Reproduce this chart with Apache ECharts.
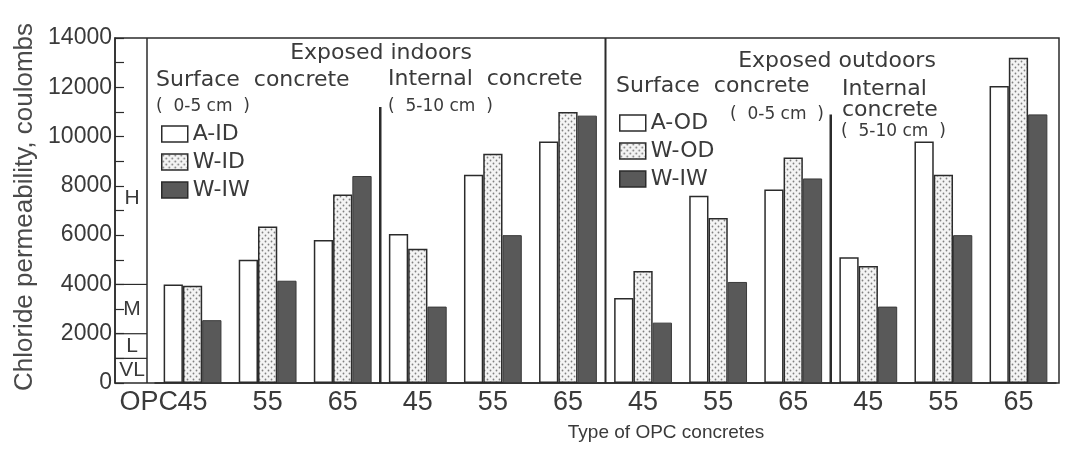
<!DOCTYPE html>
<html>
<head>
<meta charset="utf-8">
<script src="https://cdn.jsdelivr.net/npm/echarts@6/dist/echarts.min.js"></script>
<style>
  html, body { margin: 0; padding: 0; background: #fff; }
  #chart { width: 1065px; height: 450px; }
</style>
</head>
<body>
<div id="chart"></div>
<script>
// OPC concretes: w/c ratio per group, indoor groups 1-6, outdoor groups 7-12
const categories = ['45', '55', '65', '45', '55', '65', '45', '55', '65', '45', '55', '65']

// exposed indoors (surface 45/55/65, internal 45/55/65)
const aId    = [4000, 5000, 5800, 6050, 8450, 9800]
const wId    = [3950, 6350, 7650, 5450, 9300, 11000]
const wIwIn  = [2550, 4150, 8400, 3100, 6000, 10850]
// exposed outdoors
const aOd    = [3450, 7600, 7850, 5100, 9800, 12050]
const wOd    = [4550, 6700, 9150, 4750, 8450, 13200]
const wIwOut = [2450, 4100, 8300, 3100, 6000, 10900]

// rating bands on the left strip (boundaries and letter positions)
const bandLines = [1000, 2000, 4000]
const bandLetters = [
  { text: 'H', value: 7500 },
  { text: 'M', value: 3000 },
  { text: 'L', value: 1500 },
  { text: 'VL', value: 500 },
]

const INK = '#2b2b2b'
const TEXT = '#3a3a3a'
const NUM_FONT = "'Liberation Sans', sans-serif"
const PLOT_FONT = "'DejaVu Sans', sans-serif"

const indoorPad = Array(6).fill(null)
const padIn = (arr) => arr.concat(indoorPad)
const padOut = (arr) => indoorPad.concat(arr)

function dotPattern() {
  const c = document.createElement('canvas')
  c.width = 6; c.height = 6
  const ctx = c.getContext('2d')
  ctx.fillStyle = '#f4f4f4'
  ctx.fillRect(0, 0, 6, 6)
  ctx.fillStyle = '#808080'
  ctx.beginPath(); ctx.arc(1.5, 1.5, 0.9, 0, Math.PI * 2); ctx.fill()
  ctx.beginPath(); ctx.arc(4.5, 4.5, 0.9, 0, Math.PI * 2); ctx.fill()
  return { image: c, repeat: 'repeat' }
}

const styles = {
  A: { color: '#ffffff', borderColor: INK, borderWidth: 1.5 },
  W: { color: dotPattern(), borderColor: INK, borderWidth: 1.5 },
  IW: { color: '#595959', borderColor: '#3a3a3a', borderWidth: 1 },
}

function bar(name, stack, data, style) {
  return {
    name, type: 'bar', stack, data,
    barGap: '0%', barCategoryGap: '23%',
    itemStyle: style,
    emphasis: { disabled: true },
    animation: false,
  }
}

const legendBase = {
  orient: 'vertical', icon: 'rect', padding: 0,
  itemWidth: 26, itemHeight: 16, itemGap: 6,
  selectedMode: false,
  itemStyle: { borderColor: INK, borderWidth: 1.5 },
  textStyle: { fontFamily: PLOT_FONT, fontSize: 22, lineHeight: 22, color: TEXT },
  formatter: (n) => n.trim(),
}

const chart = echarts.init(document.getElementById('chart'), null, { renderer: 'canvas' })

chart.setOption({
  backgroundColor: '#fff',
  animation: false,
  grid: { left: 155, right: 9, top: 38, bottom: 67 },
  legend: [
    Object.assign({}, legendBase, { data: ['A-ID', 'W-ID', 'W-IW '], left: 161, top: 123 }),
    Object.assign({}, legendBase, { data: ['A-OD', 'W-OD', 'W-IW'], left: 619, top: 112 }),
  ],
  xAxis: {
    type: 'category', data: categories,
    axisLine: { show: true, lineStyle: { color: INK, width: 1.5 } },
    axisTick: { show: false },
    axisLabel: { interval: 0, margin: 6, fontFamily: NUM_FONT, fontSize: 27, color: TEXT },
  },
  yAxis: {
    type: 'value', min: 0, max: 14000, interval: 2000,
    position: 'left', offset: 40,
    splitLine: { show: false },
    axisLine: { show: true, lineStyle: { color: INK, width: 1.5 } },
    axisTick: { show: true, inside: true, length: 9, lineStyle: { color: INK, width: 1.2 } },
    minorTick: { show: true, splitNumber: 2, length: 9, lineStyle: { color: INK, width: 1.2 } },
    axisLabel: {
      margin: 3, fontFamily: NUM_FONT, fontSize: 23, color: TEXT,
      formatter: (v) => String(v),
    },
  },
  series: [
    bar('A-ID', 'A', padIn(aId), styles.A),
    bar('W-ID', 'W', padIn(wId), styles.W),
    bar('W-IW ', 'IW', padIn(wIwIn), styles.IW),
    bar('A-OD', 'A', padOut(aOd), styles.A),
    bar('W-OD', 'W', padOut(wOd), styles.W),
    bar('W-IW', 'IW', padOut(wIwOut), styles.IW),
  ],
})

// frame, dividers, rating strip and captions, placed through the axes
const xPx = (i) => chart.convertToPixel({ xAxisIndex: 0 }, i)
const yPx = (v) => chart.convertToPixel({ yAxisIndex: 0 }, v)
const boundary = (k) => (xPx(k - 1) + xPx(k)) / 2

const yTop = yPx(14000)
const yBase = yPx(0)
const axisX = 115
const stripX = 147
const frameRight = 1059

const line = (x1, y1, x2, y2, w) => ({
  type: 'line', silent: true,
  shape: { x1, y1, x2, y2 },
  style: { stroke: INK, lineWidth: w || 1.5 },
})
const text = (t, x, y, size, align, font) => ({
  type: 'text', silent: true, x, y,
  style: {
    text: t, fill: TEXT, fontSize: size, fontFamily: font || PLOT_FONT,
    align: align || 'left', verticalAlign: 'middle',
  },
})

const graphics = [
  { type: 'rect', silent: true,
    shape: { x: axisX, y: yTop, width: frameRight - axisX, height: yBase - yTop },
    style: { fill: 'none', stroke: INK, lineWidth: 1.5 } },
  line(stripX, yTop, stripX, yBase),
  line(boundary(6), yTop, boundary(6), yBase, 2),
  line(boundary(3), yPx(11200), boundary(3), yBase, 2.5),
  line(boundary(9), yPx(10900), boundary(9), yBase, 2.5),
]
bandLines.forEach((v) => graphics.push(line(axisX, yPx(v), stripX, yPx(v), 1.2)))
bandLetters.forEach((b) => graphics.push(text(b.text, 132, yPx(b.value), 21, 'center', NUM_FONT)))

graphics.push(
  text('Exposed indoors', 381, 53, 22, 'center'),
  text('Surface  concrete', 156, 80, 22),
  text('Internal  concrete', 388, 79, 22),
  text('(  0-5 cm  )', 156, 107, 17),
  text('(  5-10 cm  )', 388, 107, 17),
  text('Exposed outdoors', 837, 61, 22, 'center'),
  text('Surface  concrete', 616, 86, 22),
  text('Internal', 842, 89, 22),
  text('concrete', 842, 110, 22),
  text('(  0-5 cm  )', 730, 115, 17),
  text('(  5-10 cm  )', 841, 132, 17),
  text('OPC', 178, yBase + 20, 27, 'right', NUM_FONT),
  text('Type of OPC concretes', 666, 433, 19, 'center', NUM_FONT),
  {
    type: 'text', silent: true, x: 25, y: 207, rotation: Math.PI / 2,
    style: {
      text: 'Chloride permeability, coulombs', fill: '#4a4a4a',
      fontSize: 26, fontFamily: NUM_FONT,
      align: 'center', verticalAlign: 'middle',
    },
  },
)

chart.setOption({ graphic: graphics })
</script>
</body>
</html>
